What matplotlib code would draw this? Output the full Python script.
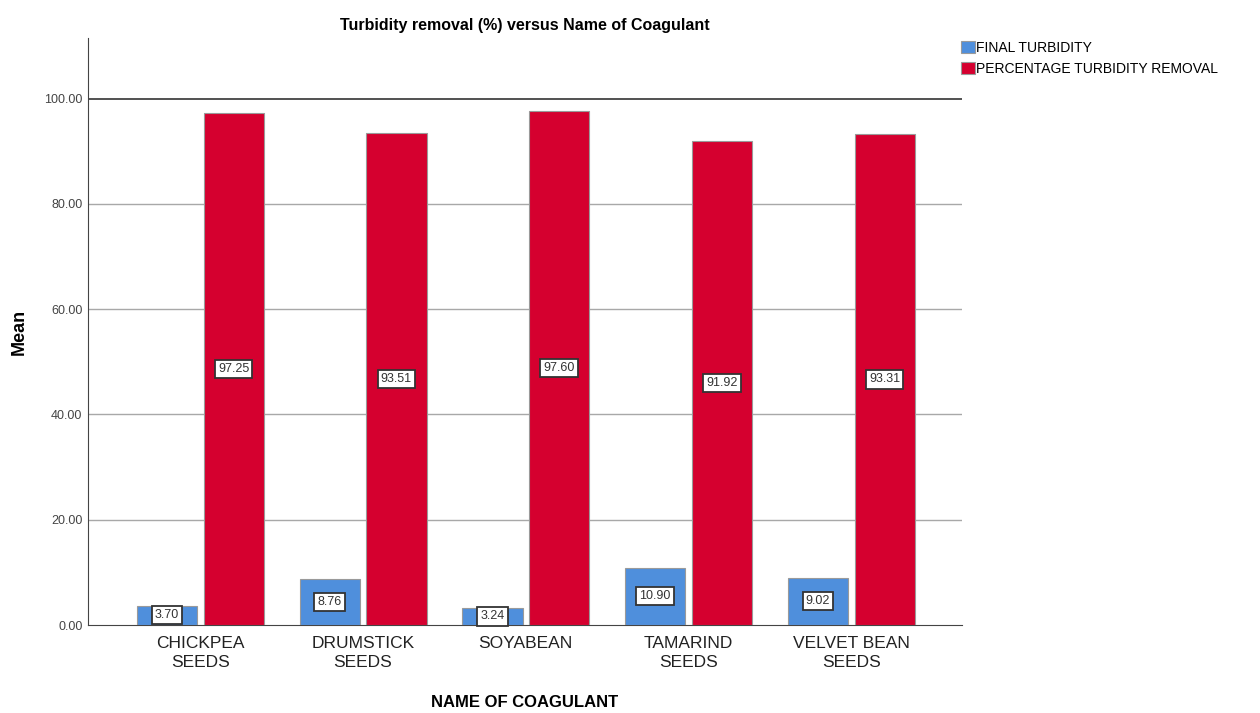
import numpy as np
import matplotlib.pyplot as plt

plt.rcParams['font.family'] = ['Liberation Sans', 'DejaVu Sans']

# Mean values per coagulant
coagulants = ["CHICKPEA\nSEEDS", "DRUMSTICK\nSEEDS", "SOYABEAN", "TAMARIND\nSEEDS", "VELVET BEAN\nSEEDS"]
final_turbidity = [3.70, 8.76, 3.24, 10.90, 9.02]
pct_removal = [97.25, 93.51, 97.60, 91.92, 93.31]
yticks = [0, 20, 40, 60, 80, 100]

blue = "#4f8fdc"
red = "#d5002f"

fig = plt.figure(figsize=(12.6, 7.13), dpi=100)
ax = fig.add_axes([0.0698, 0.1234, 0.6937, 0.8233])

x = np.arange(len(coagulants))
w = 0.37
off = 0.205
b1 = ax.bar(x - off, final_turbidity, w, color=blue, edgecolor="#9a9a9a", linewidth=0.8,
            label="FINAL TURBIDITY", zorder=3)
b2 = ax.bar(x + off, pct_removal, w, color=red, edgecolor="#9a9a9a", linewidth=0.8,
            label="PERCENTAGE TURBIDITY REMOVAL", zorder=3)

# value boxes in the middle of each bar
for bars, vals in ((b1, final_turbidity), (b2, pct_removal)):
    for b, v in zip(bars, vals):
        ax.text(b.get_x() + b.get_width() / 2, v / 2, f"{v:.2f}", ha="center", va="center",
                fontsize=9, color="#333333", zorder=5,
                bbox=dict(boxstyle="square,pad=0.25", fc="white", ec="#333333", lw=1.3))

ax.set_xlim(-0.69, 4.68)
ax.set_ylim(0, 111.5)
ax.set_yticks(yticks)
ax.set_yticklabels([f"{t:.2f}" for t in yticks], fontsize=9, color="#444444")
ax.set_xticks(x)
ax.set_xticklabels(coagulants, fontsize=12.5, color="#222222", linespacing=1.3)
ax.tick_params(axis="x", length=0, pad=8)
ax.tick_params(axis="y", length=0, pad=4)

for t in yticks[1:-1]:
    ax.axhline(t, color="#a8a8a8", lw=1.0, zorder=1)
ax.axhline(100, color="#333333", lw=1.2, zorder=1)

for s in ("top", "right"):
    ax.spines[s].set_visible(False)
ax.spines["left"].set_color("#444444")
ax.spines["bottom"].set_color("#444444")

ax.set_ylabel("Mean", fontsize=13, fontweight="bold", labelpad=12)
fig.text(525 / 1260, 3 / 713, "NAME OF COAGULANT", fontsize=12, fontweight="bold",
         ha="center", va="bottom")
ax.set_title("Turbidity removal (%) versus Name of Coagulant", fontsize=11.5, fontweight="bold", pad=6)

ax.legend(loc="upper left", bbox_to_anchor=(0.9985, 0.995), frameon=False, fontsize=10,
          handlelength=1.0, handleheight=1.0, handletextpad=0.1, labelspacing=0.5,
          borderaxespad=0, borderpad=0)

plt.savefig("out.png", dpi=100)
